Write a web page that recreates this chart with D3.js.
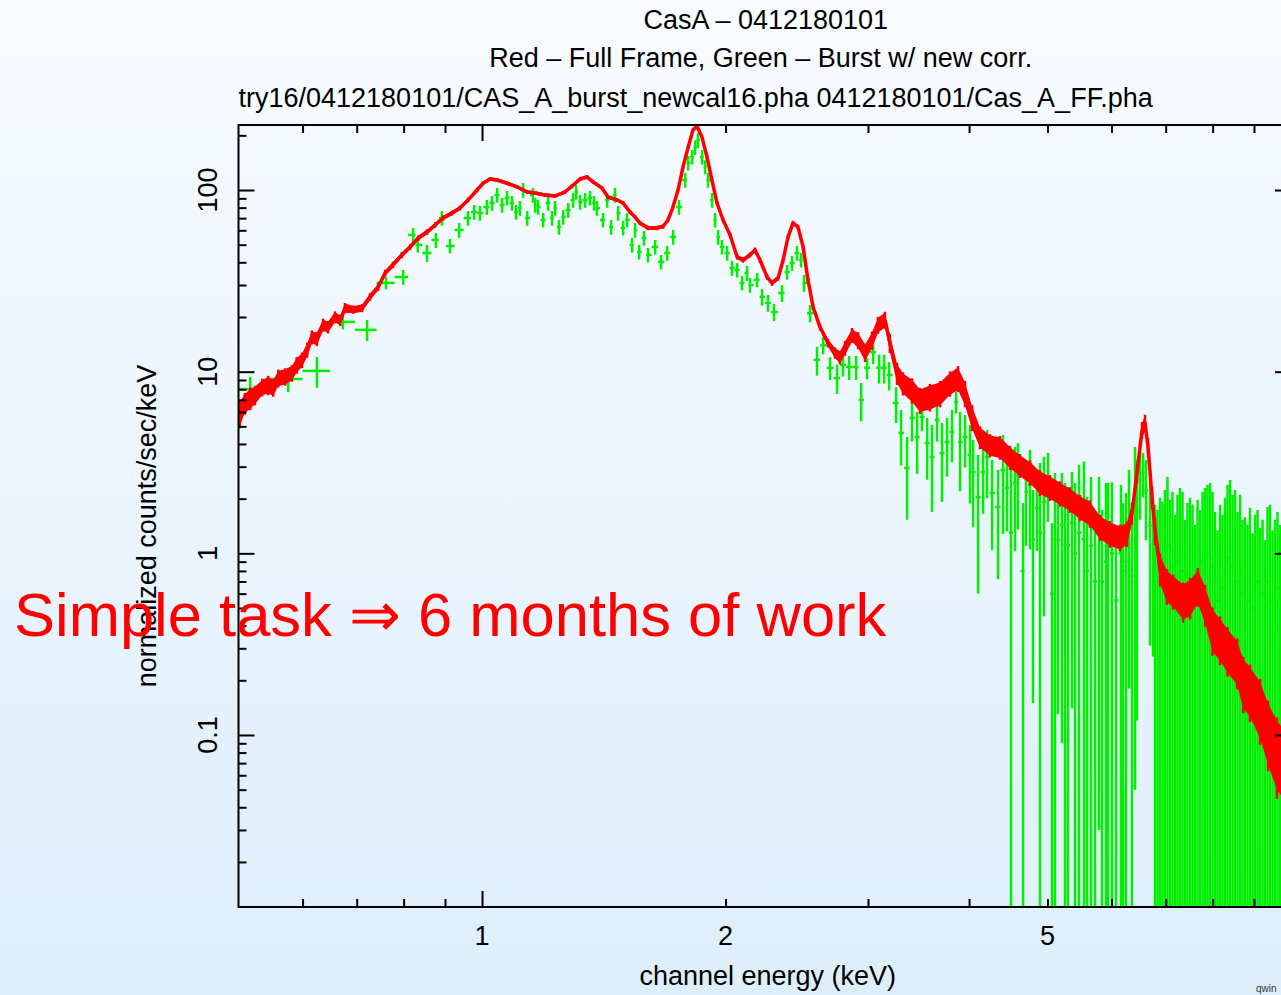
<!DOCTYPE html>
<html><head><meta charset="utf-8">
<script src="https://cdn.jsdelivr.net/npm/d3@7"></script>
<style>
html,body{margin:0;padding:0;overflow:hidden;background:#eef6fd;}
svg{display:block;}
text{font-family:"Liberation Sans",Arial,Helvetica,sans-serif;}
</style></head><body>
<svg id="chart" width="1281" height="995"></svg>
<script>
// ---------- text ----------
const titleLine1 = "CasA \u2013 0412180101";
const titleLine2 = "Red \u2013 Full Frame, Green \u2013 Burst w/ new corr.";
const titleLine3 = "try16/0412180101/CAS_A_burst_newcal16.pha 0412180101/Cas_A_FF.pha";
const xAxisTitle = "channel energy (keV)";
const yAxisTitle = "normalized counts/sec/keV";
const overlayText = "Simple task \u21d2 6 months of work";
const stampText = "qwin";

// ---------- axis ticks ----------
const xDomain = [0.5, 10];
const yDomain = [0.0113, 228];
const xMajorTicks = [1, 10];
const xMinorTicks = [0.6, 0.7, 0.8, 0.9, 2, 3, 4, 5, 6, 7, 8, 9];
const xTickLabels = [1, 2, 5];
const yMajorTicks = [0.1, 1, 10, 100];
const yMinorTicks = [0.02,0.03,0.04,0.05,0.06,0.07,0.08,0.09,0.2,0.3,0.4,0.5,0.6,0.7,0.8,0.9,2,3,4,5,6,7,8,9,20,30,40,50,60,70,80,90,200];
const yTickLabels = [0.1, 1, 10, 100];

// ---------- red: Full Frame ----------
const redEnergy = [0.502,0.509,0.517,0.524,0.535,0.544,0.552,0.560,0.571,0.582,
0.590,0.599,0.608,0.616,0.625,0.636,0.645,0.658,0.668,0.677,
0.693,0.711,0.727,0.744,0.759,0.776,0.796,0.815,0.834,0.855,
0.875,0.895,0.918,0.939,0.961,0.986,1.003,1.023,1.044,1.074,
1.105,1.137,1.163,1.196,1.231,1.266,1.292,1.322,1.348,1.372,
1.407,1.431,1.469,1.494,1.524,1.546,1.568,1.604,1.645,1.674,
1.698,1.722,1.747,1.772,1.798,1.823,1.844,1.870,1.897,1.924,
1.952,1.986,2.026,2.067,2.102,2.144,2.175,2.206,2.251,2.283,
2.323,2.356,2.389,2.423,2.458,2.494,2.529,2.566,2.617,2.677,
2.731,2.770,2.810,2.867,2.917,2.975,3.034,3.086,3.148,3.193,
3.258,3.314,3.400,3.478,3.579,3.683,3.789,3.876,3.954,4.034,
4.127,4.246,4.368,4.495,4.624,4.758,4.894,5.036,5.182,5.331,
5.485,5.642,5.806,5.973,6.145,6.270,6.360,6.451,6.544,6.600,
6.657,6.733,6.791,6.888,7.026,7.147,7.355,7.502,7.674,7.830,
7.998,8.171,8.347,8.579,8.726,8.899,9.157,9.367,9.610,9.858];
const redRate = [5.92,6.72,7.16,7.44,8.23,8.45,8.2,9.23,9.4,9.83,
10.9,11.6,13.2,15.5,15.2,18.1,17.6,20.0,19.2,22.4,
22.0,22.4,25.8,29.2,34.9,38.7,43.9,48.6,54.4,58.7,
64.2,70.1,74.7,79.6,88.1,100,109,115,113.5,109,
104,97.5,96.3,93.9,92.7,97.5,105,115,118,110.7,
102.6,91.5,88.1,84.8,75.6,71.0,65.8,61.8,61.8,63.0,
68.4,80.6,100,134,172,214,225,196,152,113.5,
84.8,68.4,56.5,42.8,41.2,43.9,46.7,41.2,33.2,30.8,
32.8,41.2,55.1,65.8,62.6,48.6,32.0,22.7,17.6,14.4,
12.7,12.0,13.5,15.9,14.9,12.8,14.9,18.1,19.3,14.4,
9.83,8.66,7.93,6.99,7.3,7.63,8.66,9.23,7.63,5.63,
4.37,3.95,3.85,3.39,3.06,2.80,2.47,2.32,2.15,1.99,
1.80,1.67,1.40,1.29,1.23,1.29,1.67,2.77,4.77,5.22,
3.85,2.04,1.34,0.830,0.669,0.628,0.553,0.582,0.669,0.533,
0.388,0.346,0.301,0.259,0.201,0.181,0.146,0.109,0.0848,0.0729];
const redError = [0.9,0.8,0.9,0.8,0.8,0.9,0.8,0.9,0.9,0.9,
1.0,1.0,1.1,1.2,1.2,1.3,1.2,1.3,1.2,1.3,
1.0,1.0,1.1,1.2,1.3,1.4,1.5,1.6,1.7,1.8,
1.9,2.0,2.0,2.1,2.2,2.4,2.5,2.6,2.5,2.4,
2.3,2.2,2.2,2.1,2.1,2.2,2.3,2.5,2.6,2.5,
2.3,2.1,2.0,2.0,1.8,1.7,1.6,1.5,1.5,1.5,
1.6,1.8,2.2,2.8,3.4,4.0,4.2,3.8,3.2,2.5,
2.0,1.7,1.5,1.2,1.2,1.2,1.3,1.2,1.0,1.0,
1.0,1.2,1.5,1.7,1.6,1.3,1.0,0.8,0.7,0.7,
0.8,0.9,1.1,1.3,1.4,1.3,1.5,1.7,1.8,1.5,
1.2,1.1,1.1,1.0,1.1,1.1,1.2,1.3,1.1,0.8,
0.55,0.5,0.5,0.45,0.4,0.38,0.35,0.33,0.3,0.28,
0.26,0.25,0.2,0.19,0.18,0.18,0.2,0.3,0.45,0.5,
0.4,0.25,0.2,0.15,0.13,0.12,0.12,0.13,0.14,0.12,
0.10,0.09,0.08,0.07,0.06,0.055,0.05,0.04,0.035,0.03];

// ---------- green: Burst w/ new corr. ----------
const greenEnergy = [0.517,0.576,0.625,0.673,0.721,0.761,0.799,0.822,0.833,0.855,
0.877,0.892,0.913,0.937,0.961,0.978,0.994,1.014,1.029,1.044,
1.059,1.074,1.089,1.102,1.114,1.124,1.137,1.156,1.163,1.173,
1.190,1.207,1.221,1.231,1.245,1.260,1.278,1.296,1.307,1.322,
1.341,1.360,1.376,1.387,1.411,1.428,1.444,1.460,1.473,1.494,
1.511,1.533,1.546,1.564,1.586,1.604,1.637,1.665,1.694,1.723,
1.752,1.783,1.798,1.819,1.834,1.849,1.871,1.887,1.903,1.925,
1.941,1.958,1.980,2.009,2.037,2.067,2.096,2.126,2.144,2.188,
2.219,2.257,2.296,2.349,2.383,2.417,2.451,2.480,2.501,2.544,
2.595,2.640,2.693,2.747,2.794,2.843,2.900,2.942,2.992,3.044,
3.096,3.141,3.186,3.250,3.296,3.353,3.401,3.450,3.499,3.550,
3.600,3.652,3.704,3.757,3.811,3.855,3.899,3.955,4.011,4.046,
4.104,4.163,4.210,4.271,4.344,4.406,4.456,4.507,4.559,4.598,
4.664,4.704,4.758,4.798,4.853,4.895,4.951,5.008,5.065,5.108,
5.152,5.211,5.256,5.301,5.362,5.408,5.470,5.548,5.596,5.660,
5.725,5.790,5.840,5.906,5.940,6.008,6.077,6.164,6.199,6.253,
6.306,6.360,6.415,6.451,6.507,6.563,6.619,6.695,6.752,6.790,
6.839,6.888,6.937,6.986,7.036,7.086,7.137,7.188,7.239,7.291,
7.343,7.396,7.448,7.502,7.555,7.609,7.664,7.718,7.774,7.829,
7.885,7.941,7.998,8.055,8.113,8.171,8.229,8.288,8.347,8.407,
8.467,8.527,8.588,8.650,8.711,8.774,8.836,8.899,8.963,9.027,
9.092,9.157,9.222,9.288,9.354,9.421,9.488,9.556,9.624,9.693,
9.762,9.832,9.902];
const greenRate = [8.03,9.11,10.1,18.8,17.0,30.8,33.2,56.5,49.8,45.0,
53.0,70.1,49.2,60.2,70.1,75.6,74.7,80.6,84.8,93.9,
82.7,90.4,84.8,75.6,79.6,100,70.1,93.9,82.7,80.6,
68.4,84.8,70.1,79.6,62.6,71.0,77.6,88.1,97.5,85.9,
88.1,90.4,84.8,79.6,68.4,88.1,62.6,93.9,74.7,61.8,
68.4,49.8,60.2,45.6,54.4,43.9,48.6,40.2,45.0,55.1,
80.6,113.5,141,152,172,188,152,134,113.5,88.1,
68.4,55.1,48.6,45.0,37.2,36.3,30.8,34.9,30.0,32.0,
25.8,23.9,21.3,27.1,35.4,39.6,45.0,41.2,30.8,21.0,
11.6,14.0,10.5,9.23,10.9,10.6,10.6,6.99,10.5,12.8,
10.5,10.5,9.59,6.72,4.60,2.95,5.56,4.37,5.63,4.05,
3.39,5.42,3.57,4.10,4.66,6.81,4.10,4.37,3.48,2.80,
2.04,2.80,3.39,2.15,1.80,2.88,2.29,1.30,2.44,2.70,
0.80,2.18,2.38,1.19,1.78,1.30,1.92,2.53,0.60,1.20,
1.18,1.43,1.11,1.11,1.47,1.00,1.30,1.20,0.80,1.10,
0.70,1.33,0.70,0.90,1.10,1.00,0.55,1.00,0.80,0.90,
1.53,0.75,1.95,1.69,2.55,2.80,2.22,1.42,1.12,0.75,
0.70,0.80,0.75,0.95,1.10,0.80,0.85,0.65,0.90,0.95,
0.80,0.60,0.75,0.85,0.70,0.60,0.80,0.70,0.90,0.95,
1.00,0.95,0.85,0.70,0.55,0.75,0.65,0.80,0.95,1.05,
0.85,0.90,0.70,0.80,0.60,0.65,0.55,0.70,0.50,0.65,
0.70,0.55,0.60,0.45,0.70,0.75,0.55,0.60,0.65,0.55,
0.65,0.60,0.55];
const greenError = [1.32,1.4,1.95,1.7,2.25,2.4,3.1,5.3,4.6,4.8,
5.0,6.5,4.5,5.6,6.5,7.1,7.0,7.5,7.9,8.7,
7.7,8.3,7.9,7.1,7.4,9.3,6.5,8.7,7.7,7.5,
6.3,7.9,6.5,7.4,5.8,6.6,7.2,8.2,9.0,8.0,
8.2,8.3,7.9,7.4,6.3,8.2,5.8,8.7,7.0,5.7,
6.3,4.6,5.6,4.2,5.1,4.0,4.4,3.7,4.2,5.1,
7.5,10.5,13,14,16,18,14,12,10.5,8.2,
6.3,5.1,4.4,4.2,3.5,3.3,2.8,3.3,2.8,2.9,
2.7,2.5,2.3,2.9,3.3,3.7,4.2,3.8,3.3,2.3,
2.1,1.5,1.5,1.7,1.5,1.6,1.6,1.67,1.4,1.8,
1.9,1.9,1.7,1.5,1.55,1.42,1.43,1.63,0.92,1.51,
1.7,1.3,1.65,1.46,1.49,0.92,1.9,1.4,1.6,1.41,
1.44,1.15,1.38,1.11,1.08,1.6,0.97,1.96,1.41,1.35,
1.09,1.08,1.33,1.04,0.75,1.84,1.47,1.04,0.87,1.57,
1.05,1.34,1.33,1.21,1.33,1.44,1.76,2.00,1.24,1.53,
0.97,1.30,1.03,1.54,1.34,1.46,0.85,1.38,1.09,1.25,
1.35,0.98,1.90,1.57,1.02,0.77,1.04,1.11,0.85,1.10,
1.03,1.22,1.17,1.28,1.53,1.17,1.33,0.98,1.20,1.34,
1.38,0.93,1.14,1.17,1.15,0.83,1.17,1.03,1.28,1.34,
1.38,1.49,1.33,0.99,0.79,1.10,0.98,1.22,1.43,1.48,
1.25,1.33,0.99,1.30,0.93,0.93,0.88,1.08,0.79,0.98,
1.03,0.83,0.93,0.73,1.10,1.10,0.79,0.93,1.04,0.88,
0.98,0.93,0.79];

// ---------- drawing ----------
const W = 1281, H = 995;
const plot = {left: 238.5, right: 1291, top: 125, bottom: 907};
const svg = d3.select("#chart");
const defs = svg.append("defs");
const grad = defs.append("linearGradient").attr("id", "bg")
  .attr("x1", 0).attr("y1", 0).attr("x2", 0).attr("y2", 1);
grad.append("stop").attr("offset", "0%").attr("stop-color", "#f8fbff");
grad.append("stop").attr("offset", "100%").attr("stop-color", "#ddeefb");
svg.append("rect").attr("width", W).attr("height", H).attr("fill", "url(#bg)");

defs.append("clipPath").attr("id", "plotclip").append("rect")
  .attr("x", plot.left).attr("y", plot.top)
  .attr("width", plot.right - plot.left).attr("height", plot.bottom - plot.top);

const x = d3.scaleLog().domain(xDomain).range([plot.left, plot.right]);
const y = d3.scaleLog().domain(yDomain).range([plot.bottom, plot.top]);
const yLow = v => v > 0 ? y(v) : plot.bottom + 50;

// green data with bin edges from neighbouring channels
const nG = Math.min(greenEnergy.length, greenRate.length, greenError.length);
const green = d3.range(nG).map(i => ({e: greenEnergy[i], v: greenRate[i], err: greenError[i]}));
green.forEach((d, i) => {
  const p = green[i - 1], n = green[i + 1];
  d.hi = n ? Math.sqrt(d.e * n.e) : d.e * d.e / Math.sqrt(d.e * p.e);
  d.lo = p ? Math.sqrt(d.e * p.e) : d.e * d.e / d.hi;
});
const nR = Math.min(redEnergy.length, redRate.length, redError.length);
const red = d3.range(nR).map(i => ({e: redEnergy[i], v: redRate[i], err: redError[i]}));

const data = svg.append("g").attr("clip-path", "url(#plotclip)");
const GREEN = "#00f000", RED = "#ff0000";

const gG = data.append("g").attr("stroke", GREEN).attr("stroke-width", 2.5).attr("fill", "none");
gG.selectAll("line.v").data(green).join("line").attr("class", "v")
  .attr("x1", d => x(d.e)).attr("x2", d => x(d.e))
  .attr("y1", d => y(d.v + d.err)).attr("y2", d => yLow(d.v - d.err));
gG.selectAll("line.h").data(green).join("line").attr("class", "h")
  .attr("x1", d => x(d.lo)).attr("x2", d => x(d.hi))
  .attr("y1", d => y(d.v)).attr("y2", d => y(d.v));

const gR = data.append("g");
gR.append("path").datum(red)
  .attr("d", d3.area().x(d => x(d.e)).y0(d => yLow(d.v - d.err)).y1(d => y(d.v + d.err)))
  .attr("fill", RED);
gR.append("path").datum(red)
  .attr("d", d3.line().x(d => x(d.e)).y(d => y(d.v)))
  .attr("fill", "none").attr("stroke", RED).attr("stroke-width", 3.5).attr("stroke-linejoin", "round");
gR.selectAll("line").data(red).join("line")
  .attr("x1", d => x(d.e)).attr("x2", d => x(d.e))
  .attr("y1", d => y(d.v + d.err * 1.15)).attr("y2", d => yLow(d.v - d.err * 1.15))
  .attr("stroke", RED).attr("stroke-width", 2.5);

// frame and ticks
const axes = svg.append("g");
axes.append("rect").attr("x", plot.left).attr("y", plot.top)
  .attr("width", plot.right - plot.left).attr("height", plot.bottom - plot.top)
  .attr("fill", "none").attr("stroke", "#000").attr("stroke-width", 2);

function tickAxis(gen, scale, values, size, transform) {
  const g = axes.append("g").attr("transform", transform)
    .call(gen(scale).tickValues(values).tickSize(size).tickFormat(""));
  g.select(".domain").remove();
  g.selectAll(".tick line").attr("stroke", "#000").attr("stroke-width", 2);
}
tickAxis(d3.axisBottom, x, xMajorTicks, -16, `translate(0,${plot.bottom})`);
tickAxis(d3.axisBottom, x, xMinorTicks, -8, `translate(0,${plot.bottom})`);
tickAxis(d3.axisTop, x, xMajorTicks, -16, `translate(0,${plot.top})`);
tickAxis(d3.axisTop, x, xMinorTicks, -8, `translate(0,${plot.top})`);
tickAxis(d3.axisLeft, y, yMajorTicks, -16, `translate(${plot.left},0)`);
tickAxis(d3.axisLeft, y, yMinorTicks, -8, `translate(${plot.left},0)`);
tickAxis(d3.axisRight, y, yMajorTicks, -16, `translate(${plot.right},0)`);
tickAxis(d3.axisRight, y, yMinorTicks, -8, `translate(${plot.right},0)`);

// tick labels
const FS = 27;
axes.selectAll("text.xl").data(xTickLabels).join("text").attr("class", "xl")
  .attr("x", d => x(d)).attr("y", 945).attr("text-anchor", "middle")
  .attr("font-size", FS).attr("fill", "#000").text(d => d);
axes.selectAll("text.yl").data(yTickLabels).join("text").attr("class", "yl")
  .attr("transform", d => `translate(217,${y(d)}) rotate(-90)`)
  .attr("text-anchor", "middle").attr("font-size", FS).attr("fill", "#000").text(d => d);

// titles
const cx = (plot.left + plot.right) / 2;
svg.append("text").attr("x", cx + 1).attr("y", 29).attr("text-anchor", "middle")
  .attr("font-size", FS).text(titleLine1);
svg.append("text").attr("x", cx - 4).attr("y", 67).attr("text-anchor", "middle")
  .attr("font-size", FS).text(titleLine2);
svg.append("text").attr("x", plot.left).attr("y", 107).attr("text-anchor", "start")
  .attr("font-size", FS).text(titleLine3);
svg.append("text").attr("x", cx + 3).attr("y", 985).attr("text-anchor", "middle")
  .attr("font-size", FS).text(xAxisTitle);
svg.append("text").attr("transform", `translate(156,526) rotate(-90)`).attr("text-anchor", "middle")
  .attr("font-size", FS).text(yAxisTitle);
svg.append("text").attr("x", 1256).attr("y", 992).attr("font-size", 10).attr("fill", "#333").text(stampText);

// overlay annotation
svg.append("text").attr("x", 14).attr("y", 636).attr("font-size", 61.5).attr("fill", RED)
  .text(overlayText);
</script>
</body></html>
